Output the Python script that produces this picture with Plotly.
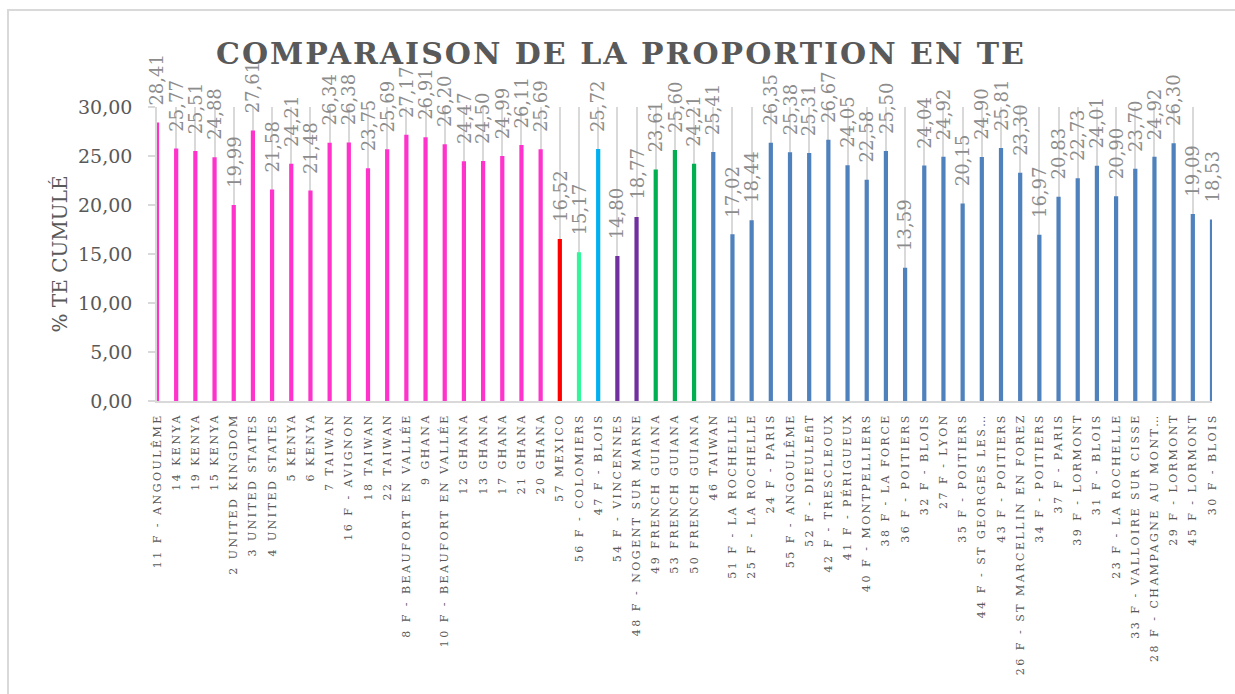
import plotly.graph_objects as go

# Échantillons (ordre d'affichage) et proportion cumulée en TE (%)
echantillons = [
    "11 F - ANGOULÊME", "14 KENYA", "19 KENYA", "15 KENYA", "2 UNITED KINGDOM",
    "3 UNITED STATES", "4 UNITED STATES", "5 KENYA", "6 KENYA", "7 TAIWAN",
    "16 F - AVIGNON", "18 TAIWAN", "22 TAIWAN", "8 F - BEAUFORT EN VALLÉE", "9 GHANA",
    "10 F - BEAUFORT EN VALLÉE", "12 GHANA", "13 GHANA", "17 GHANA", "21 GHANA",
    "20 GHANA", "57 MEXICO", "56 F - COLOMIERS", "47 F - BLOIS", "54 F - VINCENNES",
    "48 F - NOGENT SUR MARNE", "49 FRENCH GUIANA", "53 FRENCH GUIANA", "50 FRENCH GUIANA",
    "46 TAIWAN", "51 F - LA ROCHELLE", "25 F - LA ROCHELLE", "24 F - PARIS",
    "55 F - ANGOULÊME", "52 F - DIEULE\ufb01T", "42 F - TRESCLEOUX", "41 F - PÉRIGUEUX",
    "40 F - MONTPELLIERS", "38 F - LA FORCE", "36 F - POITIERS", "32 F - BLOIS",
    "27 F - LYON", "35 F - POITIERS", "44 F - ST GEORGES LES…", "43 F - POITIERS",
    "26 F - ST MARCELLIN EN FOREZ", "34 F - POITIERS", "37 F - PARIS", "39 F - LORMONT",
    "31 F - BLOIS", "23 F - LA ROCHELLE", "33 F - VALLOIRE SUR CISSE",
    "28 F - CHAMPAGNE AU MONT…", "29 F - LORMONT", "45 F - LORMONT", "30 F - BLOIS",
]

te_cumule = [
    28.41, 25.77, 25.51, 24.88, 19.99, 27.61, 21.58, 24.21, 21.48, 26.34,
    26.38, 23.75, 25.69, 27.17, 26.91, 26.20, 24.47, 24.50, 24.99, 26.11,
    25.69, 16.52, 15.17, 25.72, 14.80, 18.77, 23.61, 25.60, 24.21, 25.41,
    17.02, 18.44, 26.35, 25.38, 25.31, 26.67, 24.05, 22.58, 25.50, 13.59,
    24.04, 24.92, 20.15, 24.90, 25.81, 23.30, 16.97, 20.83, 22.73, 24.01,
    20.90, 23.70, 24.92, 26.30, 19.09, 18.53,
]

# Groupe de chaque échantillon
groupes = (
    ["origine"] * 21
    + ["mexique", "colomiers", "blois", "ile_de_france", "ile_de_france"]
    + ["guyane"] * 3
    + ["france"] * 27
)

couleurs_groupes = {
    "origine": "#FF33CC",
    "mexique": "#FF0000",
    "colomiers": "#33F59C",
    "blois": "#00B0F0",
    "ile_de_france": "#7030A0",
    "guyane": "#00B050",
    "france": "#4F81BD",
}
couleurs = [couleurs_groupes[g] for g in groupes]

GRIS_TEXTE = "#595959"
GRIS_ETIQ = "#8C8C8C"
GRIS_TRAIT = "#D9D9D9"
SERIF = "DejaVu Serif, Liberation Serif, serif"

x_idx = list(range(len(echantillons)))

fig = go.Figure()

# Barres (coupées au bord de la zone de tracé)
fig.add_trace(go.Bar(
    x=x_idx, y=te_cumule, width=0.22,
    marker=dict(color=couleurs, line=dict(width=0)),
    cliponaxis=True, hoverinfo="skip", showlegend=False,
))

# Étiquettes de valeur, verticales, un peu au-dessus de chaque barre
etiquettes = [
    dict(
        x=i, y=v, xref="x", yref="y",
        text=f"{v:.2f}".replace(".", ","),
        showarrow=False, textangle=-90,
        xanchor="center", yanchor="bottom", yshift=15,
        font=dict(family=SERIF, size=18, color=GRIS_ETIQ),
    )
    for i, v in zip(x_idx, te_cumule)
]

fig.update_layout(
    width=1235, height=694, autosize=False,
    margin=dict(l=157, r=23, t=107, b=293, pad=0),
    paper_bgcolor="white", plot_bgcolor="white",
    separators=", ",
    title=dict(
        text="<b>COMPARAISON DE LA PROPORTION EN TE</b>",
        x=621 / 1235, xanchor="center", xref="container",
        y=1 - 53 / 694, yanchor="middle", yref="container",
        font=dict(family=SERIF, size=30, color=GRIS_TEXTE),
    ),
    annotations=etiquettes,
    xaxis=dict(
        range=[0, len(echantillons) - 1],
        tickmode="array", tickvals=x_idx, ticktext=echantillons,
        tickangle=-90, ticks="", ticklabelstandoff=6,
        tickfont=dict(family=SERIF, size=11, color=GRIS_TEXTE),
        showgrid=True, gridcolor=GRIS_TRAIT, gridwidth=1.5,
        showline=True, linecolor=GRIS_TRAIT, linewidth=1.5,
        zeroline=False, automargin=False, fixedrange=True,
    ),
    yaxis=dict(
        range=[0, 30], tickmode="linear", tick0=0, dtick=5,
        tickformat=".2f", ticks="outside", ticklen=7,
        tickcolor=GRIS_TRAIT, tickwidth=1.5, ticklabelstandoff=12,
        tickfont=dict(family=SERIF, size=19, color=GRIS_TEXTE),
        showgrid=False, showline=True, linecolor=GRIS_TRAIT, linewidth=1.5,
        zeroline=False, automargin=False, fixedrange=True,
        title=dict(text="% TE CUMULÉ", standoff=5,
                   font=dict(family=SERIF, size=20, color=GRIS_TEXTE)),
    ),
    shapes=[dict(
        type="rect", xref="paper", yref="paper", layer="below",
        x0=(8 - 157) / 1055, x1=(1245 - 157) / 1055,
        y0=(401 - 705) / 294, y1=(401 - 10) / 294,
        line=dict(color=GRIS_TRAIT, width=2), fillcolor="rgba(0,0,0,0)",
    )],
)

# Espacement des lettres du titre et des libellés de catégories
post = """
var gd = document.getElementsByClassName('plotly-graph-div')[0];
function espacer() {
  gd.querySelectorAll('.xtick text').forEach(function (t) { t.style.letterSpacing = '2.5px'; });
  gd.querySelectorAll('.gtitle').forEach(function (t) { t.style.letterSpacing = '2px'; });
}
espacer();
gd.on('plotly_afterplot', espacer);
"""

fig.write_html("out.html", post_script=post)
